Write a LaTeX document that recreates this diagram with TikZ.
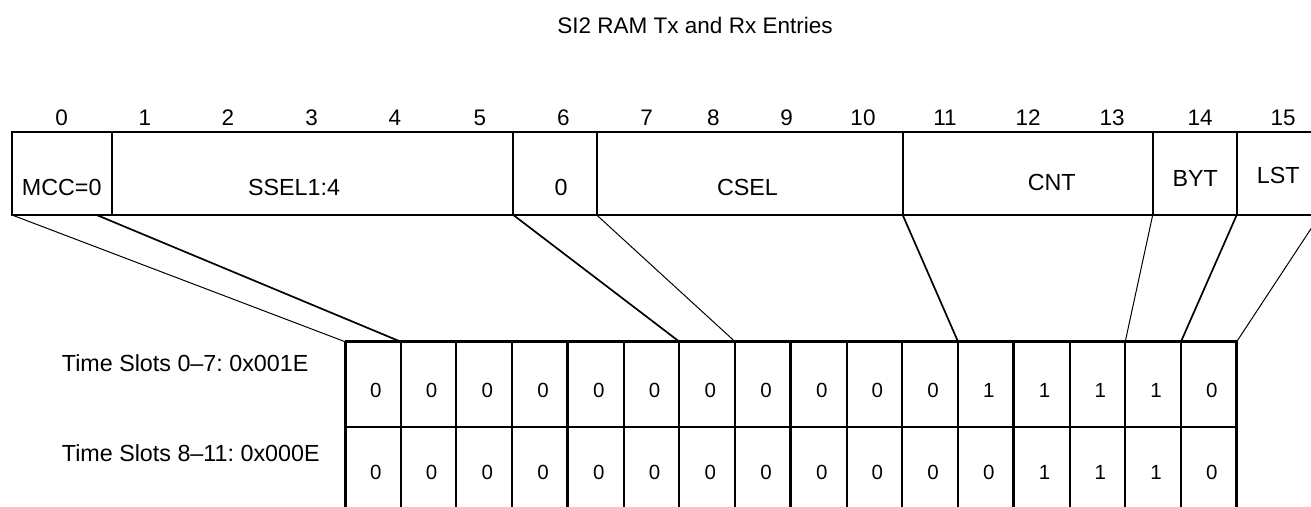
\documentclass[tikz,border=0pt]{standalone}
\usepackage{fontspec}
\setmainfont{Liberation Sans}
\frenchspacing
\begin{document}
\begin{tikzpicture}[x=1pt,y=-1pt,
  txt/.style={font=\fontsize{22.5}{24}\selectfont, inner sep=0pt, anchor=base},
  fieldlbl/.style={font=\fontsize{23.3}{26}\selectfont, inner sep=0pt, anchor=base},
  bitval/.style={font=\fontsize{20.5}{22}\selectfont, inner sep=0pt, anchor=base},
  rowlbl/.style={font=\fontsize{23.3}{26}\selectfont, inner sep=0pt, anchor=base west},
  frame/.style={line width=2pt},
  grid/.style={line width=2pt},
  nibble/.style={line width=3pt},
  fanthin/.style={line width=1pt},
  fanthick/.style={line width=1.7pt}]
\useasboundingbox (0,0) rectangle (1311,506);
\clip (0,0) rectangle (1311,506);

% title
\node[txt] (title) at (695,33.3) {SI2 RAM Tx and Rx Entries};

% bit numbers above the register
\foreach \n/\x in {0/61.7,1/145,2/228,3/311.7,4/395,5/480,6/563.3,7/646.7,
                   8/713.3,9/786.7,10/863,11/945,12/1028,13/1112,14/1200,15/1283}
  \node[txt] (bit\n) at (\x,125) {\n};

% register fields
\coordinate (regNW) at (12,131.7);
\coordinate (regSE) at (1320,215);
\draw[frame] (regNW) rectangle (regSE);
\foreach \x in {111.7,513.3,596.7,902.7,1152.7,1236.7}
  \draw[frame] (\x,131.7) -- (\x,215);

\node[fieldlbl] (mcc)  at (61.7,195)   {MCC=0};
\node[fieldlbl] (ssel) at (294,195)    {SSEL1:4};
\node[fieldlbl] (zero) at (561,195)    {0};
\node[fieldlbl] (csel) at (747.5,195)  {CSEL};
\node[fieldlbl] (cnt)  at (1051.7,190) {CNT};
\node[fieldlbl] (byt)  at (1195.3,186.7) {BYT};
\node[fieldlbl] (lst)  at (1278.3,183.3) {LST};

% anchor points of the fan-out lines on the register
\coordinate (a0) at (12,215);
\coordinate (a1) at (96.7,215);
\coordinate (a2) at (513.3,215);
\coordinate (a3) at (596.7,215);
\coordinate (a4) at (902.7,215);
\coordinate (a5) at (1152.7,215);
\coordinate (a6) at (1236.7,215);
\coordinate (a7) at (1320,215);

% bit table
\def\tx{345}
\def\tw{55.73}
\def\ttop{341.7}
\def\tmid{426.7}
\def\tbot{520}
\foreach \i in {0,...,16}
  \coordinate (c\i) at ({\tx+\i*\tw},\ttop);

\foreach \i in {1,2,3,5,6,7,9,10,11,13,14,15}
  \draw[grid] ({\tx+\i*\tw},\ttop) -- ({\tx+\i*\tw},\tbot);
\foreach \i in {4,8,12}
  \draw[nibble] ({\tx+\i*\tw},\ttop) -- ({\tx+\i*\tw},\tbot);
\draw[nibble] (c0) ++(0,-1.2) -- ({\tx},\tbot);
\draw[nibble] (c16) ++(0,-1.2) -- ({\tx+16*\tw},\tbot);
\draw[line width=2.5pt] (c0) -- (c16);
\draw[grid] ({\tx},\tmid) -- ({\tx+16*\tw},\tmid);

% fan-out lines from register fields to table columns
\draw[fanthin]  (a0) -- (c0);
\draw[fanthick] (a1) -- (c1);
\draw[fanthick] (a2) -- (c6);
\draw[fanthin]  (a3) -- (c7);
\draw[fanthick] (a4) -- (c11);
\draw[fanthin]  (a5) -- (c14);
\draw[fanthick] (a6) -- (c15);
\draw[fanthin]  (a7) -- (c16);

% row labels
\node[rowlbl] (row1) at (61.7,371.7) {Time Slots 0–7: 0x001E};
\node[rowlbl] (row2) at (61.7,461.7) {Time Slots 8–11: 0x000E};

% bit values
\foreach \v [count=\k from 0] in {0,0,0,0,0,0,0,0,0,0,0,1,1,1,1,0}
  \node[bitval] (r1v\k) at ({\tx+(\k+0.5)*\tw+3},397.3) {\v};
\foreach \v [count=\k from 0] in {0,0,0,0,0,0,0,0,0,0,0,0,1,1,1,0}
  \node[bitval] (r2v\k) at ({\tx+(\k+0.5)*\tw+3},479.3) {\v};
\end{tikzpicture}
\end{document}
